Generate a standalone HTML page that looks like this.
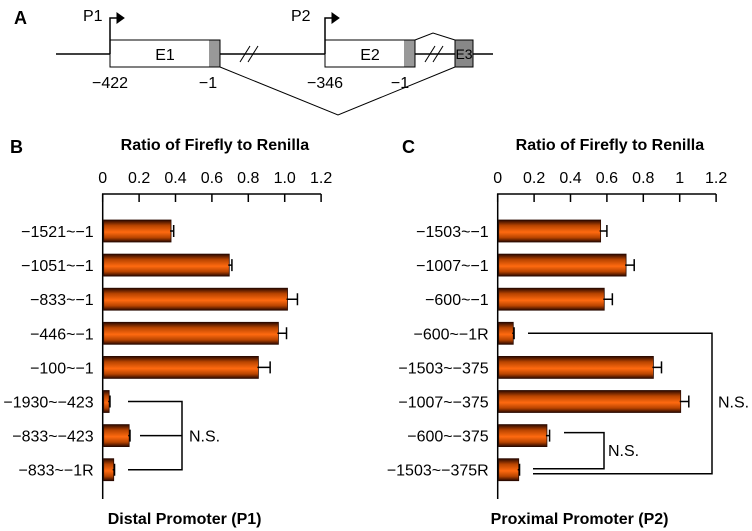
<!DOCTYPE html>
<html><head><meta charset="utf-8"><style>
html,body{margin:0;padding:0;background:#fff;}
svg{display:block;font-family:"Liberation Sans",sans-serif;}
.b{font-family:"Liberation Sans",sans-serif;font-weight:bold;}
</style></head><body>
<svg id="fig" width="752" height="531" viewBox="0 0 752 531" xmlns="http://www.w3.org/2000/svg">
<defs>
<linearGradient id="og" x1="0" y1="0" x2="0" y2="1">
<stop offset="0" stop-color="#2a0800"/><stop offset="0.25" stop-color="#b84400"/><stop offset="0.55" stop-color="#ff6a10"/><stop offset="0.8" stop-color="#b84400"/><stop offset="1" stop-color="#2a0800"/>
</linearGradient>
</defs>
<g stroke="#000" fill="none">
<text x="14" y="24" class="b" font-size="18" fill="#000" stroke="none">A</text>
<line x1="56" y1="54" x2="493" y2="54" stroke-width="1.5"/>
<rect x="110" y="40" width="110" height="27" fill="#fff"/>
<rect x="209" y="40.5" width="10.5" height="26" fill="#999" stroke="none"/>
<rect x="325" y="40" width="90" height="27" fill="#fff"/>
<rect x="404" y="40.5" width="10.5" height="26" fill="#999" stroke="none"/>
<rect x="455" y="40" width="18" height="27" fill="#888"/>
<line x1="240" y1="62" x2="250" y2="46"/><line x1="248" y1="62" x2="258" y2="46"/>
<line x1="425" y1="62" x2="435" y2="46"/><line x1="433" y1="62" x2="443" y2="46"/>
<path d="M110 54 V18 H118" stroke-width="1.5"/><path d="M117 13 L124 18 L117 23 Z" fill="#000"/>
<path d="M325 54 V18 H333" stroke-width="1.5"/><path d="M332 13 L339 18 L332 23 Z" fill="#000"/>
<path d="M415 40 L433 33 L455 40"/>
<path d="M220 67 L338 115 L455 67"/>
<g fill="#000" stroke="none" font-size="16">
<text x="83" y="21">P1</text>
<text x="291" y="21">P2</text>
<text x="165" y="60" text-anchor="middle">E1</text>
<text x="370" y="60" text-anchor="middle">E2</text>
<text x="464" y="59" text-anchor="middle" font-size="14">E3</text>
<text x="110" y="88" text-anchor="middle">−422</text>
<text x="208" y="88" text-anchor="middle">−1</text>
<text x="325" y="88" text-anchor="middle">−346</text>
<text x="400" y="88" text-anchor="middle">−1</text>
</g>
</g>
<text x="10" y="153" class="b" font-size="18">B</text>
<text x="402" y="153" class="b" font-size="18">C</text>
<g id="chartB"></g>
<g id="chartC"></g>
</svg>
<script>
const catsB = ["−1521~−1","−1051~−1","−833~−1","−446~−1","−100~−1","−1930~−423","−833~−423","−833~−1R"];
const valsB = [0.37,0.69,1.01,0.96,0.85,0.03,0.14,0.055];
const errsB = [0.02,0.02,0.06,0.05,0.07,0.01,0.01,0.01];
const catsC = ["−1503~−1","−1007~−1","−600~−1","−600~−1R","−1503~−375","−1007~−375","−600~−375","−1503~−375R"];
const valsC = [0.56,0.70,0.58,0.08,0.85,1.00,0.265,0.11];
const errsC = [0.04,0.05,0.05,0.01,0.05,0.05,0.02,0.01];
const ticksB = ["0","0.2","0.4","0.6","0.8","1.0","1.2"];
const ticksC = ["0","0.2","0.4","0.6","0.8","1","1.2"];
const tickVals = [0,0.2,0.4,0.6,0.8,1.0,1.2];
const NS = "http://www.w3.org/2000/svg";
function mk(parent, tag, attrs, text){
  const e=document.createElementNS(NS,tag);
  for(const k in attrs) e.setAttribute(k,attrs[k]);
  if(text!==undefined) e.textContent=text;
  parent.appendChild(e); return e;
}
function drawChart(gid, x0, cats, vals, errs, ticks, bottomTitle){
  const g=document.getElementById(gid);
  const sx=v=>x0+v*182;
  const sy=i=>231+i*34.1;
  const t=mk(g,'text',{x:sx(0.6)+3,y:150,'text-anchor':'middle','font-size':'16','class':'b'},'Ratio of Firefly to Renilla');
  
  
  const ax=mk(g,'path',{d:`M${sx(0)} 499 V194 H${sx(1.2)}`,stroke:'#000','stroke-width':'1.5',fill:'none'});
  
  
  tickVals.forEach((v,i)=>{
    mk(g,'line',{x1:sx(v),y1:194,x2:sx(v),y2:202,stroke:'#000','stroke-width':'1.5'});
    const tl=mk(g,'text',{x:sx(v),y:183,'text-anchor':'middle','font-size':'16'},ticks[i]);
    
    
  });
  cats.forEach((c,i)=>{
    const y=sy(i);
    const lab=mk(g,'text',{x:sx(0)-9,y:y+6,'text-anchor':'end','font-size':'16'},c);
    
    
    const r=mk(g,'rect',{x:sx(0)+1,y:y-11,width:Math.max(1,sx(vals[i])-sx(0)),height:22,fill:'url(#og)',stroke:'#2a0a00','stroke-width':'0.8'});
    
    
    const e1=sx(vals[i]), e2=sx(vals[i]+errs[i]);
    const eb=mk(g,'path',{d:`M${e1} ${y} H${e2} M${e2} ${y-6} V${y+6}`,stroke:'#000','stroke-width':'1.5',fill:'none'});
    
    
  });
  const bt=mk(g,'text',{x:sx(0.45),y:524,'text-anchor':'middle','font-size':'16','class':'b'},bottomTitle);
  
  
  return {sx,sy,g};
}
const B=drawChart('chartB',102.7,catsB,valsB,errsB,ticksB,'Distal Promoter (P1)');
const C=drawChart('chartC',497.7,catsC,valsC,errsC,ticksC,'Proximal Promoter (P2)');
const b1=mk(B.g,'path',{d:`M128 ${B.sy(5)} H182 V${B.sy(7)} H128 M140 ${B.sy(6)} H182`,stroke:'#000','stroke-width':'1.5',fill:'none'});


const n1=mk(B.g,'text',{x:189,y:B.sy(6)+6,'font-size':'16'},'N.S.');


const c1=mk(C.g,'path',{d:`M528 ${C.sy(3)} H712 V${C.sy(7)+4} H533`,stroke:'#000','stroke-width':'1.5',fill:'none'});


const c2=mk(C.g,'path',{d:`M564 ${C.sy(6)-3} H604 V${C.sy(7)-1} H533`,stroke:'#000','stroke-width':'1.5',fill:'none'});


const n2=mk(C.g,'text',{x:718,y:C.sy(5)+6,'font-size':'16'},'N.S.');


const n3=mk(C.g,'text',{x:608,y:456,'font-size':'16'},'N.S.');


</script>
</body></html>
